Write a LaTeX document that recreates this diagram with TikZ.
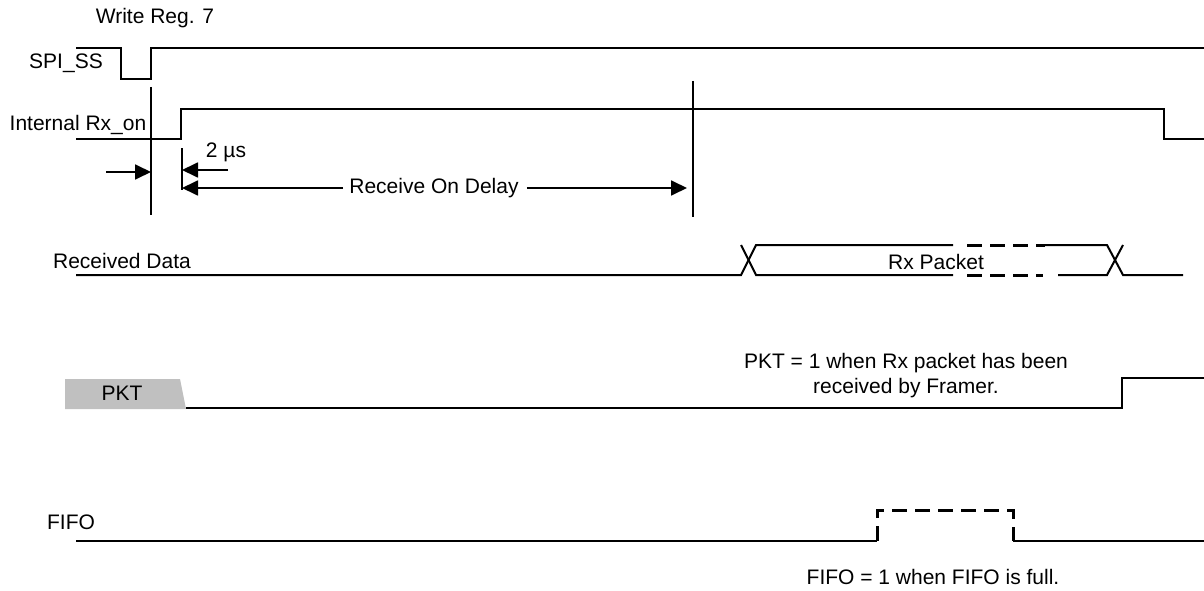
\documentclass[tikz,border=0pt]{standalone}
\usepackage{fontspec}
\setmainfont{Liberation Sans}
\usetikzlibrary{arrows.meta}
\definecolor{tabgray}{HTML}{C0C0C0}
\tikzset{
  sig/.style={line width=2pt, line join=miter},
  dsig/.style={line width=3pt, dash pattern=on 15pt off 8pt},
  mark line/.style={line width=2pt},
  dimarrow/.style={line width=1.8pt, -{Triangle[length=16pt,width=15pt]}},
  lbl/.style={font=\fontsize{21}{25}\selectfont, inner sep=0pt, align=center},
}
\begin{document}
\begin{tikzpicture}[x=1pt,y=-1pt]
\useasboundingbox (0,0) rectangle (1204,591);

% labels
\node[lbl] (wr) at (155,18) {Write Reg. 7};
\node[lbl] (spi) at (66,63) {SPI\_SS};
\node[lbl] (rxon) at (78,125) {Internal Rx\_on};
\node[lbl] (rdata) at (122,261) {Received Data};
\node[lbl] (fifo) at (71,522) {FIFO};

% SPI_SS
\draw[sig] (76,48) -- (121,48) -- (121,79) -- (151,79) -- (151,48) -- (1204,48);

% Internal Rx_on
\draw[sig] (76,139) -- (181,139) -- (181,109) -- (1164,109) -- (1164,139) -- (1204,139);

% timing markers
\coordinate (m1t) at (151,87);
\coordinate (m1b) at (151,215);
\coordinate (m2t) at (182,148);
\coordinate (m2b) at (182,190);
\coordinate (m3t) at (693,81);
\coordinate (m3b) at (693,217);
\draw[mark line] (m1t) -- (m1b);
\draw[mark line] (m2t) -- (m2b);
\draw[mark line] (m3t) -- (m3b);

% arrows
\coordinate (a1s) at (106,172);
\coordinate (a1e) at (151,172);
\draw[dimarrow] (a1s) -- (a1e);
\coordinate (a2s) at (228,170);
\coordinate (a2e) at (182,170);
\draw[dimarrow] (a2s) -- (a2e);
\node[lbl] (us) at (226,152) {2 µs};
\node[lbl] (rod) at (434,188) {Receive On Delay};
\coordinate (a3e) at (182,188);
\coordinate (a4e) at (687,188);
\draw[dimarrow] (rod.west) ++(-6,0) coordinate (a3s) -- (a3e);
\draw[dimarrow] (rod.east) ++(8,0) coordinate (a4s) -- (a4e);

% Received Data
\draw[sig] (76,275) -- (741,275) -- (756,245) -- (953,245);
\draw[sig] (741,245) -- (756,275) -- (953,275);
\draw[dsig] (967,245) -- (1045,245);
\draw[dsig] (967,275) -- (1043,275);
\draw[sig] (1045,245) -- (1107,245) -- (1123,275) -- (1183,275);
\draw[sig] (1058,275) -- (1107,275) -- (1123,245);
\node[lbl] (rxp) at (936,262) {Rx Packet};

% PKT
\fill[tabgray] (65,379) -- (180,379) -- (186,409) -- (65,409) -- cycle;
\node[lbl] (pkt) at (122,393) {PKT};
\draw[sig] (186,408) -- (1122,408) -- (1122,378) -- (1204,378);
\node[lbl] (pktnote) at (906,376) {PKT = 1 when Rx packet has been\\received by Framer.};

% FIFO
\draw[sig] (76,541) -- (877,541);
\draw[dsig] (877,541) -- (877,510) -- (1013,510) -- (1013,541);
\draw[sig] (1013,541) -- (1204,541);
\node[lbl] (fifonote) at (933,577) {FIFO = 1 when FIFO is full.};
\end{tikzpicture}
\end{document}
